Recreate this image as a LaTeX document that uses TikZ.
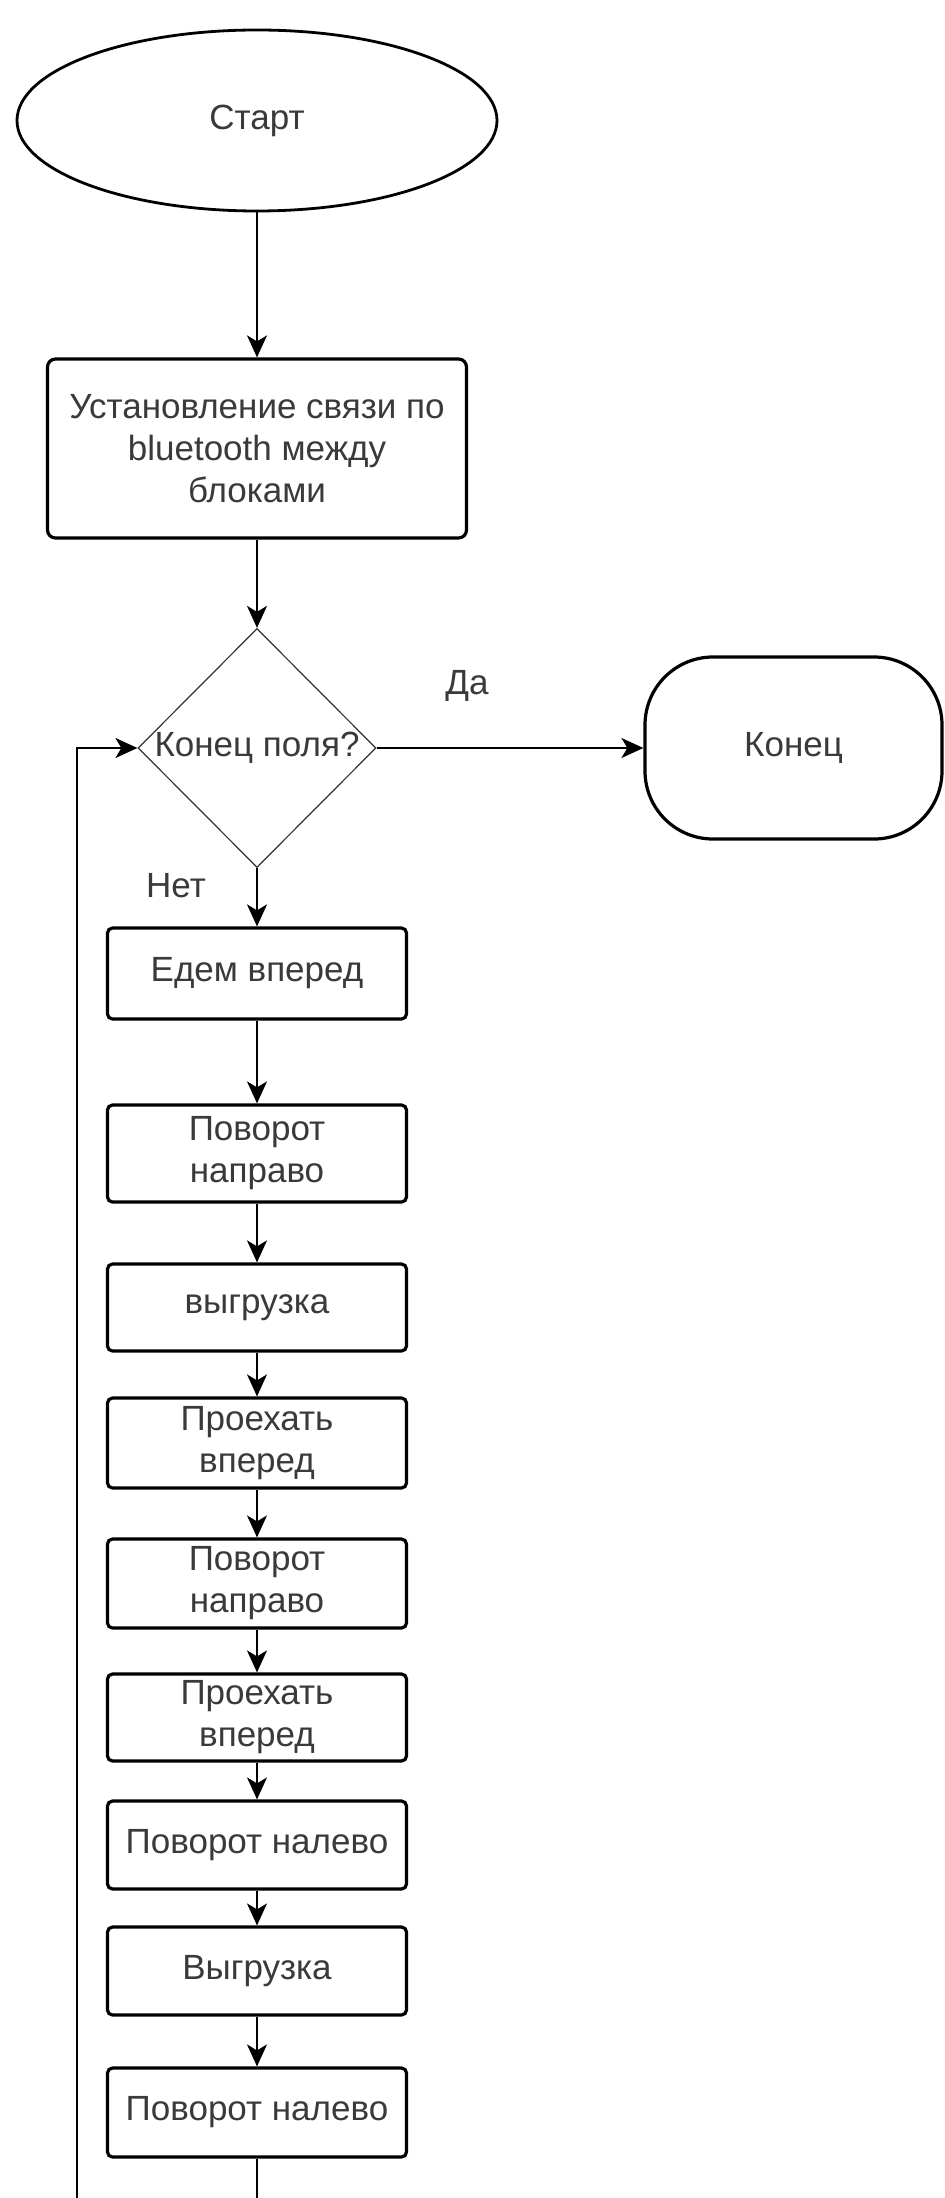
\documentclass[tikz,border=0pt]{standalone}
\usepackage{fontspec}
\setmainfont{Liberation Sans}
\usetikzlibrary{shapes.geometric,arrows.meta}
\definecolor{txtgray}{HTML}{3A3A3A}
\begin{document}
\begin{tikzpicture}[x=0.5pt,y=-0.5pt,
  font=\fontsize{17.5pt}{21pt}\selectfont,
  every node/.style={text=txtgray},
  line/.style={draw=black, line width=1pt},
  conn/.style={line, -{Stealth[length=11pt,width=10pt,inset=3pt]}},
  term/.style={draw=black, line width=1.4pt, ellipse, inner sep=0pt},
  endbox/.style={draw=black, line width=1.6pt, rounded corners=34pt, inner sep=0pt,
    minimum width=148.5pt, minimum height=91pt},
  proc/.style={draw=black, line width=1.6pt, rounded corners=2.5pt, inner sep=0pt,
    align=center, minimum width=149.5pt},
  bigproc/.style={draw=black, line width=1.6pt, rounded corners=4pt, inner sep=0pt,
    align=center, minimum width=209.5pt, minimum height=89.5pt},
  dec/.style={draw=black!80, line width=0.6pt, diamond, inner sep=0pt,
    minimum width=119pt, minimum height=119.5pt},
  lbl/.style={inner sep=0pt}
]
\useasboundingbox (0,0) rectangle (945,2198);
\fill[white] (0,0) rectangle (945,2198);

\node[term, minimum width=240pt, minimum height=90.5pt] (start) at (257,120.5) {Старт};
\node[bigproc] (bt) at (257,448.5) {Установление связи по\\bluetooth между\\блоками};
\node[dec, label={[lbl]center:Конец поля?}] (dec) at (257,748) {};
\node[endbox] (end) at (793.5,748) {Конец};

\node[lbl] (yes) at (467,686) {Да};
\node[lbl] (no) at (176,886) {Нет};

\node[proc, minimum height=45.5pt] (b1) at (257,973.5) {Едем вперед};
\node[proc, minimum height=48.5pt] (b2) at (257,1153.5) {Поворот\\направо};
\node[proc, minimum height=43.5pt] (b3) at (257,1307.5) {выгрузка};
\node[proc, minimum height=45pt] (b4) at (257,1443) {Проехать\\вперед};
\node[proc, minimum height=44.5pt] (b5) at (257,1583.5) {Поворот\\направо};
\node[proc, minimum height=43.5pt] (b6) at (257,1717.5) {Проехать\\вперед};
\node[proc, minimum height=44pt] (b7) at (257,1845) {Поворот налево};
\node[proc, minimum height=44pt] (b8) at (257,1971) {Выгрузка};
\node[proc, minimum height=44.5pt] (b9) at (257,2112.5) {Поворот налево};

\coordinate (botmid) at (257,2198);
\coordinate (botleft) at (77,2198);

\draw[conn] (start) -- (bt);
\draw[conn] (bt) -- (dec);
\draw[conn] (dec.east) -- (end.west);
\draw[conn] (dec.south) -- (b1);
\draw[conn] (b1) -- (b2);
\draw[conn] (b2) -- (b3);
\draw[conn] (b3) -- (b4);
\draw[conn] (b4) -- (b5);
\draw[conn] (b5) -- (b6);
\draw[conn] (b6) -- (b7);
\draw[conn] (b7) -- (b8);
\draw[conn] (b8) -- (b9);
\draw[line] (b9) -- (botmid);
\draw[conn] (botleft) |- (dec.west);
\end{tikzpicture}
\end{document}
